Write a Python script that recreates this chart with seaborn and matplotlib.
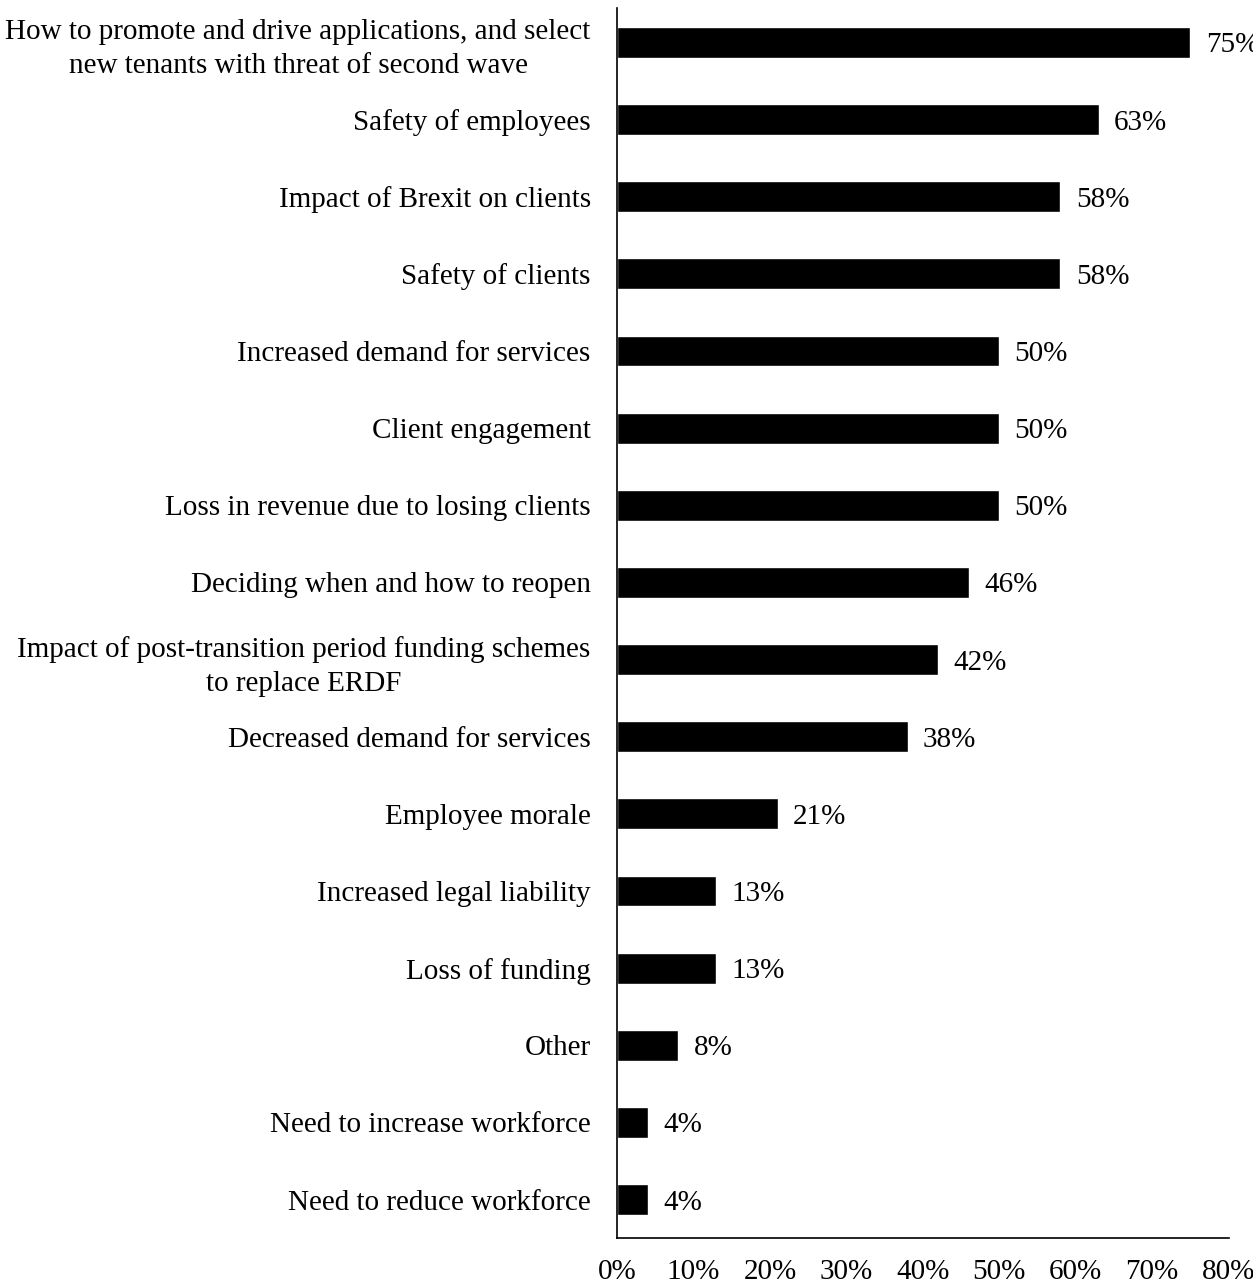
import matplotlib
matplotlib.use("Agg")
import matplotlib.pyplot as plt
import seaborn as sns
import pandas as pd

categories = [
    "How to promote and drive applications, and select\nnew tenants with threat of second wave",
    "Safety of employees",
    "Impact of Brexit on clients",
    "Safety of clients",
    "Increased demand for services",
    "Client engagement",
    "Loss in revenue due to losing clients",
    "Deciding when and how to reopen",
    "Impact of post-transition period funding schemes\nto replace ERDF",
    "Decreased demand for services",
    "Employee morale",
    "Increased legal liability",
    "Loss of funding",
    "Other",
    "Need to increase workforce",
    "Need to reduce workforce",
]
values = [75, 63, 58, 58, 50, 50, 50, 46, 42, 38, 21, 13, 13, 8, 4, 4]
xticks = [0, 10, 20, 30, 40, 50, 60, 70, 80]

df = pd.DataFrame({"cat": categories, "val": values})

sns.set_theme(style="white")
plt.rcParams['font.family'] = ['Liberation Serif', 'DejaVu Serif']
FS = 21

fig = plt.figure(figsize=(12.53, 12.83), dpi=100)
ax = fig.add_axes([0.4925, 0.035, 0.488, 0.959])

sns.barplot(data=df, x="val", y="cat", color="black", width=0.4,
            saturation=1, ax=ax, orient="h")

for i, v in enumerate(values):
    ax.text(v + 2.0, i, f"{v}%", va="center_baseline", ha="left",
            fontsize=FS, color="black")

ax.set_xlim(0, 80)
ax.set_ylim(15.5, -0.45)
ax.set_xticks(xticks)
ax.set_xticklabels([f"{t}%" for t in xticks], fontsize=FS)
ax.tick_params(axis="x", length=0, pad=15, colors="black")
ax.tick_params(axis="y", length=0, pad=19, colors="black")
for lbl in ax.get_yticklabels():
    lbl.set_fontsize(FS)
    lbl.set_multialignment("center")
    lbl.set_linespacing(1.4)
ax.set_xlabel("")
ax.set_ylabel("")
for s in ["top", "right"]:
    ax.spines[s].set_visible(False)
for s in ["left", "bottom"]:
    ax.spines[s].set_color("black")
    ax.spines[s].set_linewidth(1.2)

fig.savefig("out.png", dpi=100, facecolor="white")
